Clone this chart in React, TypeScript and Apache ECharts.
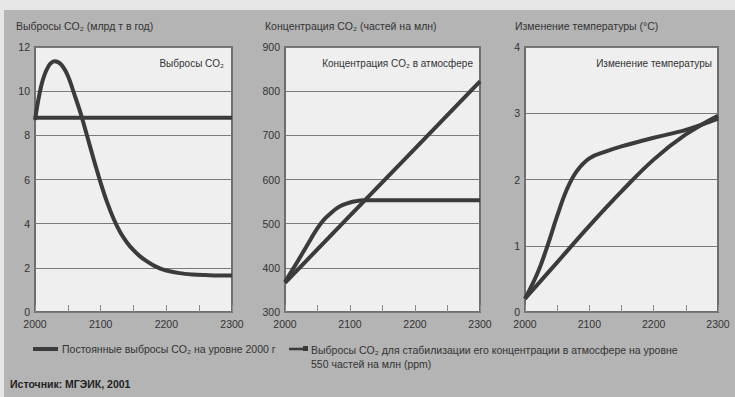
import React, { useEffect, useRef } from "react";
import * as echarts from "echarts";

// Panel 1: CO2 emissions (Gt per year)
const emisStabYears = [2000, 2010, 2020, 2030, 2040, 2050, 2060, 2070, 2080, 2090, 2100, 2110, 2120, 2130, 2140, 2150, 2160, 2170, 2180, 2190, 2200, 2220, 2240, 2260, 2280, 2300];
const emisStab = [8.7, 10.3, 11.1, 11.35, 11.2, 10.7, 9.85, 8.95, 7.9, 6.85, 5.85, 4.95, 4.2, 3.6, 3.15, 2.8, 2.52, 2.3, 2.12, 1.98, 1.88, 1.76, 1.7, 1.67, 1.65, 1.65];
const emisConstYears = [2000, 2300];
const emisConst = [8.8, 8.8];

// Panel 2: CO2 concentration (ppm)
const concConstYears = [2000, 2100, 2200, 2300];
const concConst = [366, 518, 670, 822];
const concStabYears = [2000, 2010, 2020, 2030, 2040, 2050, 2060, 2070, 2080, 2090, 2100, 2110, 2120, 2130, 2200, 2300];
const concStab = [368, 392, 416, 441, 466, 490, 509, 523, 535, 543, 548, 551, 553, 553, 553, 553];

// Panel 3: temperature change (°C)
const tempConstYears = [2000, 2050, 2100, 2150, 2200, 2250, 2300];
const tempConst = [0.2, 0.75, 1.3, 1.82, 2.3, 2.68, 2.96];
const tempStabYears = [2000, 2020, 2035, 2050, 2065, 2080, 2100, 2125, 2150, 2200, 2250, 2300];
const tempStab = [0.2, 0.6, 1.0, 1.45, 1.85, 2.12, 2.32, 2.42, 2.5, 2.63, 2.75, 2.92];

const panelTitles = ["Выбросы CO₂ (млрд т в год)", "Концентрация CO₂ (частей на млн)", "Изменение температуры (°C)"];
const innerLabels = ["Выбросы CO₂", "Концентрация CO₂ в атмосфере", "Изменение температуры"];
const yMins = [0, 300, 0];
const yMaxs = [12, 900, 4];
const yIntervals = [2, 100, 1];
const legendNames = [
  "Постоянные выбросы CO₂ на уровне 2000 г",
  "Выбросы CO₂ для стабилизации его концентрации в атмосфере на уровне\n550 частей на млн (ppm)",
];
const sourceText = "Источник: МГЭИК, 2001";

const pairs = (xs: number[], ys: number[]) => xs.map((x, i) => [x, ys[i]]);

const grids = [
  { left: 35, top: 47, width: 197, height: 265 },
  { left: 285, top: 47, width: 195, height: 265 },
  { left: 525, top: 47, width: 193, height: 265 },
];

const LINE = "#3b3b3b";
const FONT = "Liberation Sans, Arial, sans-serif";

export default function App() {
  const ref = useRef<HTMLDivElement>(null);
  useEffect(() => {
    document.body.style.margin = "0";
    const chart = echarts.init(ref.current!, null, { renderer: "svg" });

    const line = (idx: number, data: number[][], smooth: boolean | number, name: string) => ({
      type: "line",
      name,
      xAxisIndex: idx,
      yAxisIndex: idx,
      data,
      smooth,
      showSymbol: false,
      symbol: "none",
      lineStyle: { color: LINE, width: 4 },
      z: 5,
    });

    const graphics: any[] = [
      { type: "rect", shape: { x: 0, y: 0, width: 735, height: 397 }, style: { fill: "#e6e6e6" }, z: -10 },
      { type: "rect", shape: { x: 4, y: 10, width: 731, height: 387 }, style: { fill: "#b4b4b4" }, z: -9 },
    ];
    const titleX = [16, 265, 515];
    panelTitles.forEach((t, i) => {
      graphics.push({
        type: "text",
        x: titleX[i],
        y: 26,
        style: { text: t, fill: "#333", font: `10.5px ${FONT}`, textVerticalAlign: "middle" },
      });
    });
    const innerRight = [224, 473, 712];
    innerLabels.forEach((t, i) => {
      graphics.push({
        type: "text",
        x: innerRight[i],
        y: 63,
        style: { text: t, fill: "#333", font: `10px ${FONT}`, textAlign: "right", textVerticalAlign: "middle" },
        z: 10,
      });
    });
    // legend
    graphics.push(
      { type: "line", shape: { x1: 33, y1: 349, x2: 58, y2: 349 }, style: { stroke: LINE, lineWidth: 4 } },
      {
        type: "text",
        x: 62,
        y: 349,
        style: { text: legendNames[0], fill: "#333", font: `10.5px ${FONT}`, textVerticalAlign: "middle" },
      },
      { type: "line", shape: { x1: 289, y1: 349, x2: 306, y2: 349 }, style: { stroke: LINE, lineWidth: 2.5 } },
      { type: "rect", shape: { x: 303, y: 346, width: 5, height: 5 }, style: { fill: LINE } },
      {
        type: "text",
        x: 311,
        y: 343,
        style: { text: legendNames[1], fill: "#333", font: `10.5px ${FONT}`, lineHeight: 14, textVerticalAlign: "top" },
      },
      {
        type: "text",
        x: 10,
        y: 384,
        style: { text: sourceText, fill: "#222", font: `bold 10.5px ${FONT}`, textVerticalAlign: "middle" },
      }
    );

    chart.setOption({
      animation: false,
      grid: grids.map((g) => ({
        ...g,
        show: true,
        backgroundColor: "#efefef",
        borderColor: "#6e6e6e",
        borderWidth: 2,
      })),
      xAxis: grids.map((_, i) => ({
        type: "value",
        gridIndex: i,
        min: 2000,
        max: 2300,
        interval: 50,
        axisLine: { show: false },
        axisTick: { show: true, inside: true, length: 7, lineStyle: { color: "#8a8a8a" } },
        splitLine: { show: false },
        axisLabel: {
          color: "#333",
          fontSize: 10.5,
          fontFamily: FONT,
          margin: 6,
          formatter: (v: number) => (v % 100 === 0 ? String(v) : ""),
        },
      })),
      yAxis: grids.map((_, i) => ({
        type: "value",
        gridIndex: i,
        min: yMins[i],
        max: yMaxs[i],
        interval: yIntervals[i],
        axisLine: { show: false },
        axisTick: { show: false },
        splitLine: { show: true, lineStyle: { color: "#7a7a7a", width: 1 } },
        axisLabel: { color: "#333", fontSize: 10.5, fontFamily: FONT, margin: 5 },
      })),
      series: [
        line(0, pairs(emisConstYears, emisConst), false, legendNames[0]),
        line(0, pairs(emisStabYears, emisStab), 0.35, legendNames[1]),
        line(1, pairs(concConstYears, concConst), false, legendNames[0]),
        line(1, pairs(concStabYears, concStab), 0.4, legendNames[1]),
        line(2, pairs(tempConstYears, tempConst), 0.4, legendNames[0]),
        line(2, pairs(tempStabYears, tempStab), 0.4, legendNames[1]),
      ],
      graphic: graphics,
    });
    return () => chart.dispose();
  }, []);
  return <div ref={ref} style={{ width: 735, height: 397 }} />;
}
